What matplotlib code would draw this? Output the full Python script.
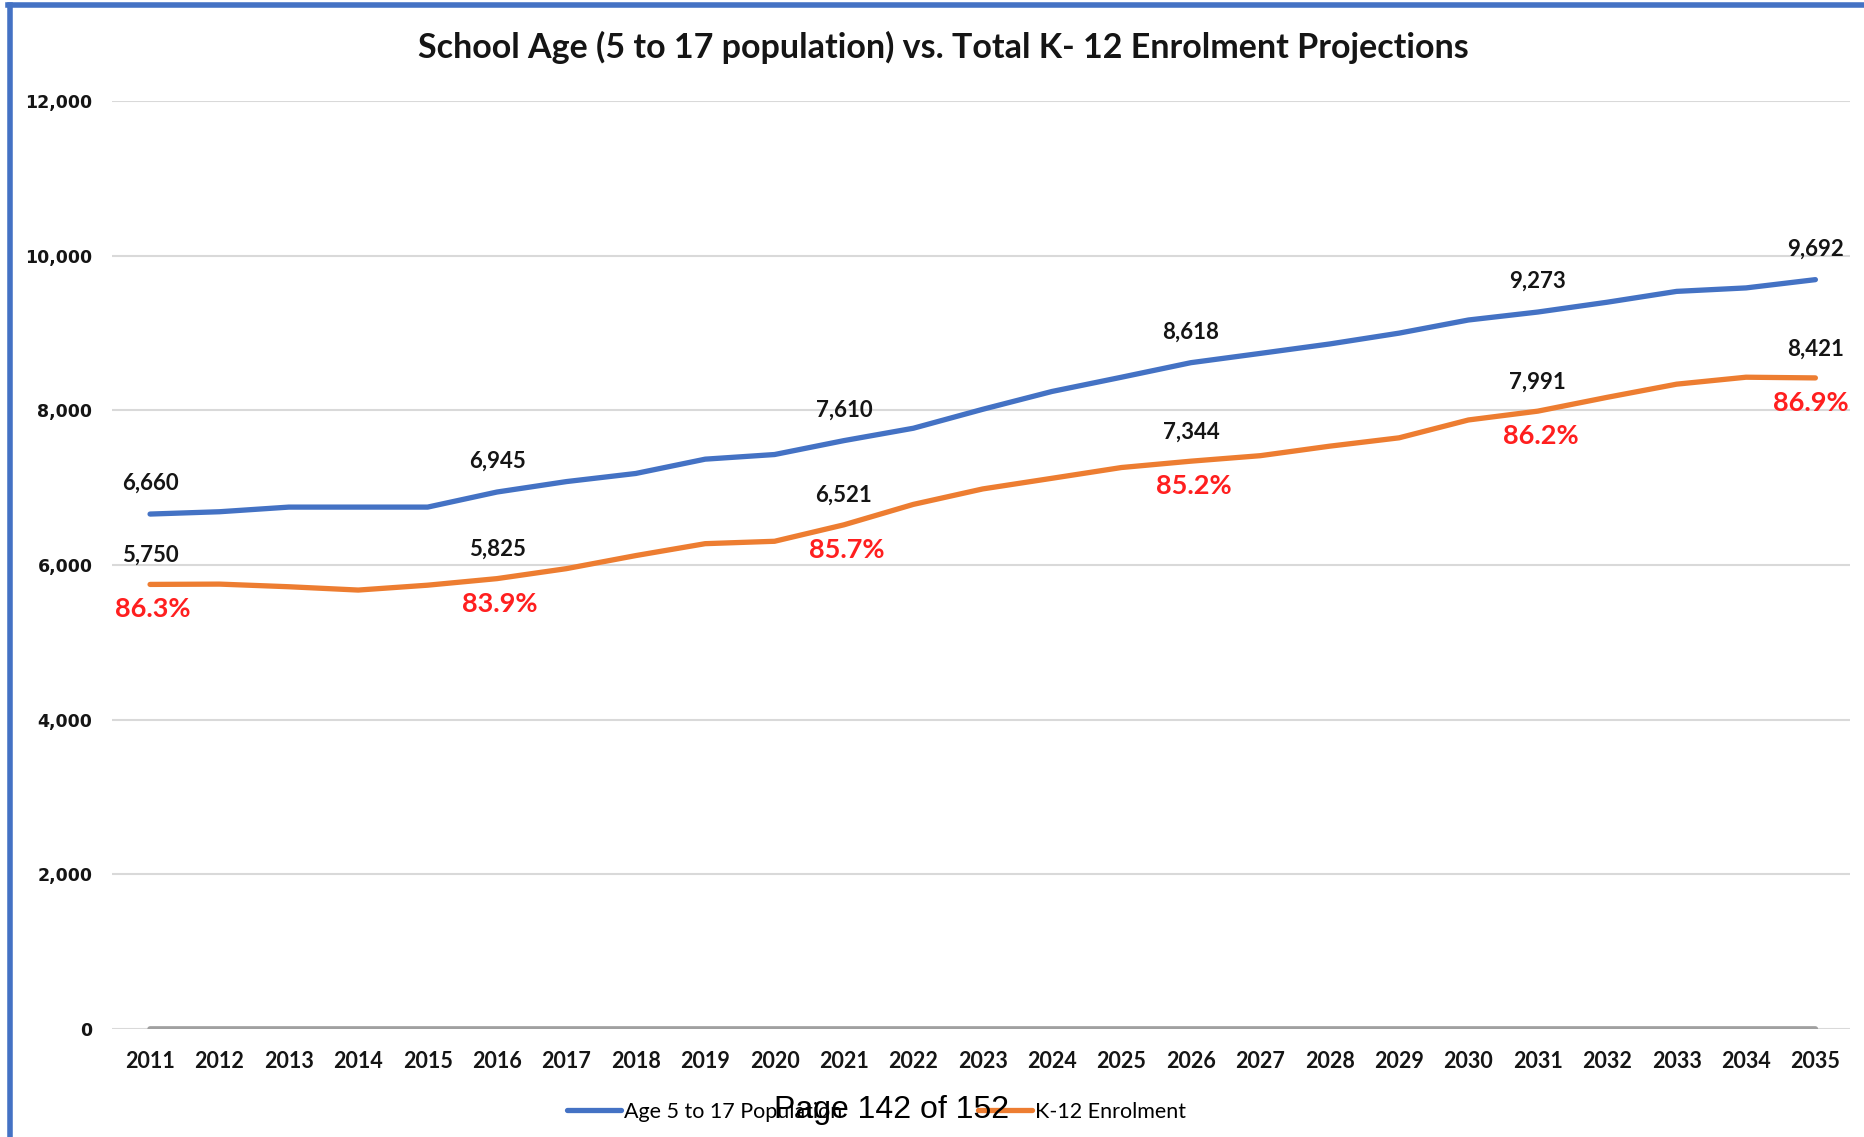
import matplotlib
matplotlib.use("Agg")
import matplotlib.pyplot as plt
from matplotlib.lines import Line2D
from matplotlib.ticker import FuncFormatter

# Projection years and series
years = list(range(2011, 2036))
age_5_to_17 = [6660, 6690, 6750, 6750, 6750, 6945, 7080, 7185, 7370, 7430,
               7610, 7770, 8015, 8246, 8430, 8618, 8738, 8860, 9000, 9170,
               9273, 9400, 9540, 9585, 9692]
k12_enrolment = [5750, 5754, 5720, 5677, 5740, 5825, 5954, 6123, 6277, 6308,
                 6521, 6785, 6985, 7123, 7262, 7344, 7415, 7538, 7646, 7877,
                 7991, 8170, 8340, 8430, 8421]
# enrolment share of the school-age population (plotted near zero on this scale)
share = [e / p for e, p in zip(k12_enrolment, age_5_to_17)]
labelled_years = [2011, 2016, 2021, 2026, 2031, 2035]
y_ticks = [0, 2000, 4000, 6000, 8000, 10000, 12000]

title = "School Age (5 to 17 population) vs. Total K- 12 Enrolment Projections"
legend_labels = ["Age 5 to 17 Population", "K-12 Enrolment"]
footer = "Page 142 of 152"

BLUE = "#4472C4"
ORANGE = "#ED7D31"
GREY = "#A0A0A0"
RED = "#FF1F1F"
INK = "#151515"
CAL = ["Lato", "DejaVu Sans"]

fig = plt.figure(figsize=(18.65, 11.37), dpi=100)
ax = fig.add_axes([0.060, 0.095, 0.932, 0.816])

ax.plot(years, share, color=GREY, lw=4, solid_capstyle="round", zorder=2)
l1, = ax.plot(years, age_5_to_17, color=BLUE, lw=3.8, solid_capstyle="round",
              solid_joinstyle="round", zorder=3)
l2, = ax.plot(years, k12_enrolment, color=ORANGE, lw=3.8, solid_capstyle="round",
              solid_joinstyle="round", zorder=3)

ax.set_xlim(2010.45, 2035.5)
ax.set_ylim(0, 12000)
ax.set_yticks(y_ticks)
ax.yaxis.set_major_formatter(FuncFormatter(lambda v, _: f"{int(v):,}"))
ax.set_xticks(years)
ax.grid(axis="y", color="#D9D9D9", lw=1.5, zorder=0)
for s in ax.spines.values():
    s.set_visible(False)
ax.tick_params(axis="both", length=0)
ax.tick_params(axis="y", pad=14)
ax.tick_params(axis="x", pad=15.5)
for t in ax.get_yticklabels():
    t.set_fontfamily("DejaVu Sans")
    t.set_fontweight("bold")
    t.set_fontsize(12.5)
    t.set_color(INK)
for t in ax.get_xticklabels():
    t.set_fontfamily(CAL)
    t.set_fontweight("bold")
    t.set_fontsize(15.5)
    t.set_color(INK)

# value and share labels at selected years
for yr in labelled_years:
    i = years.index(yr)
    pop = age_5_to_17[i]
    enr = k12_enrolment[i]
    ax.annotate(f"{pop:,}", (yr, pop), xytext=(0, 22), textcoords="offset points",
                ha="center", va="center", fontsize=16, fontweight="bold",
                family=CAL, color=INK, zorder=5)
    ax.annotate(f"{enr:,}", (yr, enr), xytext=(0, 21), textcoords="offset points",
                ha="center", va="center", fontsize=16, fontweight="bold",
                family=CAL, color=INK, zorder=5)
    dx = -3 if yr == years[-1] else 2
    ax.annotate(f"{share[i] * 100:.1f}%", (yr, enr), xytext=(dx, -18),
                textcoords="offset points", ha="center", va="center",
                fontsize=19.5, fontweight="bold", family=CAL, color=RED, zorder=5)

fig.text(0.506, 1 - 47 / 1137, title, ha="center", va="center",
         fontsize=24.5, fontweight="bold", family=CAL, color=INK)

fig.legend([l1, l2], legend_labels, loc="center", ncol=2,
           bbox_to_anchor=(0.470, 1 - 1112 / 1137), frameon=False,
           prop={"family": CAL, "size": 15.5}, handlelength=2.5,
           handletextpad=0.15, columnspacing=6.3)

fig.text(0.478, 1 - 1110 / 1137, footer, ha="center", va="center",
         fontsize=23, family="Liberation Sans", color="black", zorder=10)

# chart frame edges
fig.add_artist(Line2D([0.0045, 1.0], [1 - 5 / 1137, 1 - 5 / 1137],
                      transform=fig.transFigure, color=BLUE, lw=4))
fig.add_artist(Line2D([10 / 1865, 10 / 1865], [0.0, 1 - 5 / 1137],
                      transform=fig.transFigure, color=BLUE, lw=4))

fig.savefig("out.png", dpi=100, facecolor="white")
